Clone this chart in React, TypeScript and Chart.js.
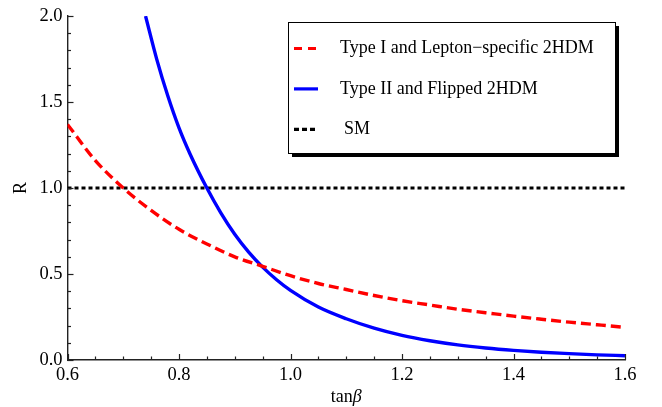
import React, { useEffect, useRef } from "react";
import { Chart, registerables } from "chart.js";

Chart.register(...registerables);

// ---- data ----
const redX = [0.6, 0.65, 0.7, 0.75, 0.8, 0.85, 0.9, 0.95, 1.0, 1.05, 1.1, 1.15, 1.2, 1.25, 1.3, 1.35, 1.4, 1.45, 1.5, 1.55, 1.6];
const redR = [1.37, 1.16, 1.0, 0.87, 0.76, 0.675, 0.6, 0.545, 0.49, 0.445, 0.41, 0.375, 0.345, 0.32, 0.295, 0.275, 0.255, 0.237, 0.22, 0.205, 0.19];

const blueX = [0.74, 0.76, 0.78, 0.8, 0.82, 0.85, 0.875, 0.9, 0.925, 0.95, 0.975, 1.0, 1.05, 1.1, 1.15, 1.2, 1.25, 1.3, 1.35, 1.4, 1.45, 1.5, 1.55, 1.6];
const blueR = [2.0, 1.75, 1.535, 1.35, 1.197, 1.0, 0.856, 0.731, 0.627, 0.54, 0.467, 0.405, 0.308, 0.24, 0.185, 0.143, 0.112, 0.088, 0.07, 0.056, 0.045, 0.037, 0.03, 0.025];

const smX = [0.6, 1.6];
const smR = [1.0, 1.0];

const seriesLabels = ["Type I and Lepton\u2212specific 2HDM", "Type II and Flipped 2HDM", "SM"];

const xTicks = [0.6, 0.8, 1.0, 1.2, 1.4, 1.6];
const yTicks = [0.0, 0.5, 1.0, 1.5, 2.0];
const xMinorStep = 0.05;
const yMinorStep = 0.1;
const xTitleMain = "tan";
const xTitleGreek = "\u03b2";
const yTitle = "R";

const FONT = '"Liberation Serif", "Times New Roman", serif';

const toPoints = (xs: number[], ys: number[]) => xs.map((x, i) => ({ x, y: ys[i] }));

const legendDashes = [[8, 6], [], [5, 3]];

const decorPlugin = {
  id: "decor",
  afterDraw(chart: any) {
    const { ctx, chartArea: ca, scales } = chart;
    const xs = scales.x;
    const ys = scales.y;
    ctx.save();
    // inward tick marks
    ctx.strokeStyle = "#222";
    ctx.lineWidth = 1.2;
    ctx.setLineDash([]);
    const eps = 1e-9;
    for (let i = 0; ; i++) {
      const v = xs.min + i * xMinorStep;
      if (v > xs.max + eps) break;
      const major = xTicks.some((t) => Math.abs(t - v) < 1e-6);
      const len = major ? 6 : 3.5;
      const px = Math.round(xs.getPixelForValue(v)) + 0.5;
      ctx.beginPath();
      ctx.moveTo(px, ca.bottom);
      ctx.lineTo(px, ca.bottom - len);
      ctx.stroke();
    }
    for (let i = 0; ; i++) {
      const v = ys.min + i * yMinorStep;
      if (v > ys.max + eps) break;
      const major = yTicks.some((t) => Math.abs(t - v) < 1e-6);
      const len = major ? 6 : 3.5;
      const py = Math.round(ys.getPixelForValue(v)) + 0.5;
      ctx.beginPath();
      ctx.moveTo(ca.left, py);
      ctx.lineTo(ca.left + len, py);
      ctx.stroke();
    }

    // x axis title with italic beta
    ctx.fillStyle = "#000";
    ctx.textBaseline = "middle";
    ctx.textAlign = "left";
    ctx.font = `18px ${FONT}`;
    const w1 = ctx.measureText(xTitleMain).width;
    ctx.font = `italic 18px ${FONT}`;
    const w2 = ctx.measureText(xTitleGreek).width;
    const cx = (ca.left + ca.right) / 2;
    const ty = 397;
    const sx = cx - (w1 + w2) / 2;
    ctx.font = `18px ${FONT}`;
    ctx.fillText(xTitleMain, sx, ty);
    ctx.font = `italic 18px ${FONT}`;
    ctx.fillText(xTitleGreek, sx + w1, ty);

    // legend box with shadow
    const bx = Math.round(ca.left + 220);
    const by = Math.round(ca.top + 6);
    const bw = 327;
    const bh = 131;
    ctx.fillStyle = "#000";
    ctx.fillRect(bx + 4, by + 4, bw, bh);
    ctx.fillStyle = "#fff";
    ctx.fillRect(bx, by, bw, bh);
    ctx.strokeStyle = "#000";
    ctx.lineWidth = 1;
    ctx.strokeRect(bx + 0.5, by + 0.5, bw, bh);
    chart.data.datasets.forEach((ds: any, i: number) => {
      const y = by + 26.5 + i * 40.4;
      ctx.strokeStyle = ds.borderColor;
      ctx.lineWidth = 3.2;
      ctx.lineCap = "butt";
      ctx.setLineDash(legendDashes[i]);
      ctx.beginPath();
      ctx.moveTo(bx + 6, y);
      ctx.lineTo(bx + 30, y);
      ctx.stroke();
      ctx.setLineDash([]);
      ctx.fillStyle = "#000";
      ctx.font = `18px ${FONT}`;
      ctx.textBaseline = "middle";
      ctx.fillText(ds.label, bx + 52 + (i === 2 ? 4 : 0), y);
    });
    ctx.restore();
  },
};

export default function App() {
  const canvasRef = useRef<HTMLCanvasElement | null>(null);

  useEffect(() => {
    const canvas = canvasRef.current;
    if (!canvas) return;
    const chart = new Chart(canvas, {
      type: "line",
      data: {
        datasets: [
          {
            label: seriesLabels[0],
            data: toPoints(redX, redR),
            borderColor: "#ff0000",
            borderWidth: 3.4,
            borderDash: [10, 5],
            pointRadius: 0,
            cubicInterpolationMode: "monotone",
            fill: false,
          },
          {
            label: seriesLabels[1],
            data: toPoints(blueX, blueR),
            borderColor: "#0000ff",
            borderWidth: 3.4,
            pointRadius: 0,
            cubicInterpolationMode: "monotone",
            fill: false,
          },
          {
            label: seriesLabels[2],
            data: toPoints(smX, smR),
            borderColor: "#000000",
            borderWidth: 3,
            borderDash: [4, 3],
            pointRadius: 0,
            fill: false,
          },
        ],
      },
      options: {
        responsive: false,
        animation: false,
        devicePixelRatio: 1,
        layout: { padding: { left: 0, right: 37, top: 16, bottom: 0 } },
        plugins: {
          legend: { display: false },
          tooltip: { enabled: false },
        },
        scales: {
          x: {
            type: "linear",
            min: 0.6,
            max: 1.6,
            afterBuildTicks: (s: any) => {
              s.ticks = xTicks.map((v) => ({ value: v }));
            },
            afterFit: (s: any) => {
              s.height = 47;
            },
            grid: { display: false, drawTicks: false },
            border: { display: true, color: "#222", width: 1.4 },
            ticks: {
              padding: 4,
              color: "#000",
              maxRotation: 0,
              autoSkip: false,
              font: { family: FONT, size: 18.5 },
              callback: (v: any) => Number(v).toFixed(1),
            },
            title: { display: false },
          },
          y: {
            type: "linear",
            min: 0,
            max: 2,
            afterBuildTicks: (s: any) => {
              s.ticks = yTicks.map((v) => ({ value: v }));
            },
            afterFit: (s: any) => {
              s.width = 67.5;
            },
            grid: { display: false, drawTicks: false },
            border: { display: true, color: "#222", width: 1.4 },
            ticks: {
              padding: 5,
              color: "#000",
              autoSkip: false,
              font: { family: FONT, size: 18.5 },
              callback: (v: any) => Number(v).toFixed(1),
            },
            title: {
              display: true,
              text: yTitle,
              color: "#000",
              font: { family: FONT, size: 18 },
              padding: { top: 10, bottom: 0 },
            },
          },
        },
      },
      plugins: [decorPlugin],
    } as any);
    return () => chart.destroy();
  }, []);

  return (
    <div style={{ position: "fixed", left: 0, top: 0, width: 662, height: 407, background: "#fff" }}>
      <canvas ref={canvasRef} width={662} height={407} style={{ display: "block", width: 662, height: 407 }} />
    </div>
  );
}
